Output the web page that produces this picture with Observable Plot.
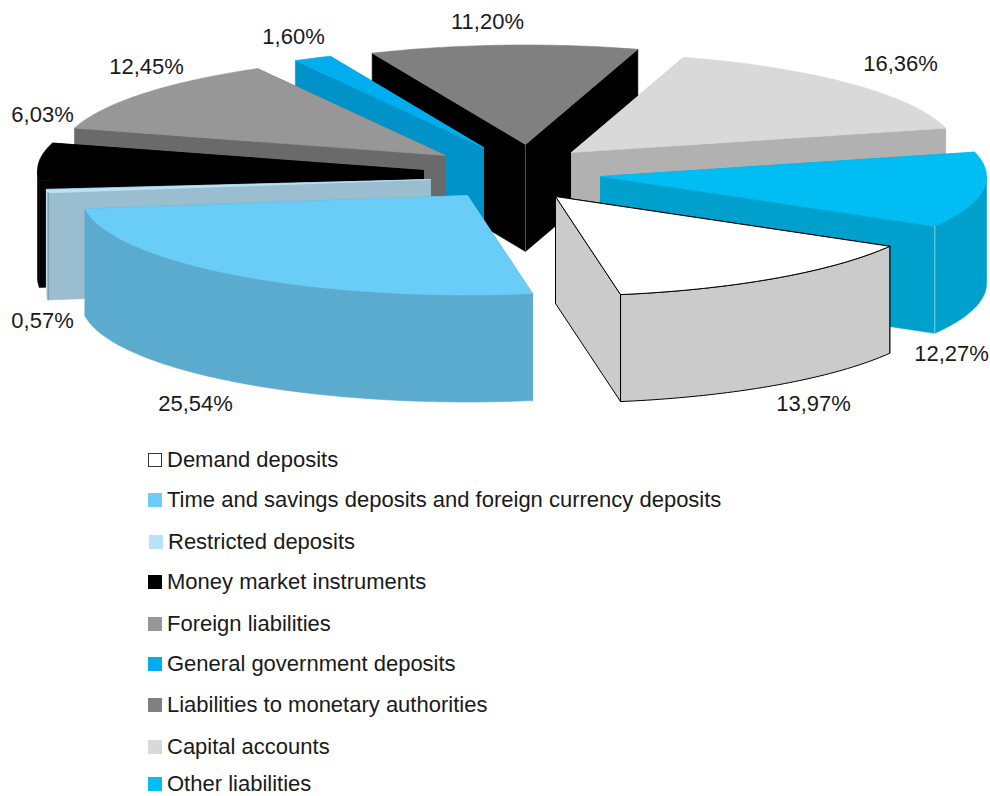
<!DOCTYPE html>
<html>
<head>
<meta charset="utf-8">
<script src="https://cdn.jsdelivr.net/npm/d3@7"></script>
<script src="https://cdn.jsdelivr.net/npm/@observablehq/plot@0.6"></script>
<style>
html,body{margin:0;padding:0;background:#fff;}
#wrap{position:relative;width:990px;height:796px;font-family:"Liberation Sans",Arial,sans-serif;color:#1a1a1a;}
#chart svg{display:block;}
.row{position:absolute;display:flex;align-items:center;font-size:22px;line-height:18px;height:18px;white-space:nowrap;}
.row .t{display:block;height:18px;line-height:18px;}
.sw{display:inline-block;width:14px;height:14px;box-sizing:border-box;margin-right:5px;}
</style>
</head>
<body>
<div id="wrap"><div id="chart"></div><div id="legend"></div></div>
<script>
// Data
const categories = ["Demand deposits","Time and savings deposits and foreign currency deposits","Restricted deposits","Money market instruments","Foreign liabilities","General government deposits","Liabilities to monetary authorities","Capital accounts","Other liabilities"];
const shares = [13.97,25.54,0.57,6.03,12.45,1.60,11.20,16.36,12.27];
const shareLabels = ["13,97%","25,54%","0,57%","6,03%","12,45%","1,60%","11,20%","16,36%","12,27%"];

// Styles
const topColors   = ["#ffffff","#69cdf7","#b7e4fa","#000000","#979797","#00aeef","#808080","#d9d9d9","#00bdf4"];
const sideColors  = ["#cbcbcb","#5aabcd","#9abdd0","#000000","#6a6a6a","#0093c9","#000000","#b1b1b1","#00a0cd"];
const rimColors   = ["#cbcbcb","#5aabcd","#d5edf8","#000000","#6a6a6a","#0093c9","#000000","#b1b1b1","#00a0cd"];
const edgeColors  = ["#000000",null,null,null,null,null,null,null,null];
const apexSeam    = [null,null,null,null,null,null,"#666666",null,null];
const startSeam   = [null,null,"#3f5f70",null,null,null,null,null,null];
const endSeam     = [null,null,null,null,null,null,null,null,"#a5dcec"];

// Layout of the exploded 3-D pie
const W = 990, H = 440;
const center = [512,170], rx = 386, ry = 99.5, depth = 107;
const rotation = 120 * Math.PI / 180;
const explodeX = [43,-45,-82,-89,-67,-29,13,59,88];
const explodeY = [26,25,9,0,-15,-23,-26,-18,6];
const labelX = [813,195,42,42,146,293,487,900,951];
const labelY = [403,403,320,114,66,36,21,63,353];
const paintOrder = [6,5,4,7,3,8,2,1,0];
const legendTop = [451,491,533,573,615,655,696,738,775];
const legendLeft = [148,148,149,148,148,148,148,148,148];

const arcs = d3.pie().sort(null).startAngle(rotation).endAngle(rotation + 2*Math.PI)(shares);
const marks = [];
function poly(points, fill, stroke, sw){
  marks.push(Plot.line([...points, points[0]], {x:"x", y:"y", fill, stroke: stroke ?? fill, strokeWidth: sw ?? 0.6, curve:"linear", strokeLinejoin:"round"}));
}
function seam(p, color, depthPx){
  marks.push(Plot.line([p,{x:p.x,y:p.y+depthPx}], {x:"x", y:"y", stroke:color, strokeWidth:0.8}));
}
for (const i of paintOrder){
  const a = arcs[i];
  const ax = center[0]+explodeX[i], ay = center[1]+explodeY[i];
  const rim = t => ({x: ax + rx*Math.sin(t), y: ay - ry*Math.cos(t)});
  const down = p => ({x:p.x, y:p.y+depth});
  const apex = {x:ax,y:ay};
  const steps = Math.max(2, Math.ceil((a.endAngle-a.startAngle)/(Math.PI/180)));
  const rimPts = d3.range(steps+1).map(k => rim(a.startAngle + (a.endAngle-a.startAngle)*k/steps));
  const mid = rim((a.startAngle+a.endAngle)/2);
  const edge = edgeColors[i];
  // radial walls: hidden first, visible last
  const wall = t => { const p = rim(t); return [apex,p,down(p),down(apex)]; };
  const faces = t => { const p = rim(t); const yOnLine = ay + (p.y-ay)*(mid.x-ax)/(p.x-ax); return mid.y < yOnLine; };
  const walls = [a.startAngle,a.endAngle].sort((p,q)=>faces(p)-faces(q));
  for (const t of walls) poly(wall(t), sideColors[i], edge, edge?1:undefined);
  // outer wall: only the part of the rim turned to the viewer
  for (const [lo,hi] of [[Math.PI/2,3*Math.PI/2],[Math.PI/2+2*Math.PI,3*Math.PI/2+2*Math.PI]]){
    const s = Math.max(lo,a.startAngle), e = Math.min(hi,a.endAngle);
    if (e > s){
      const n = Math.max(2, Math.ceil((e-s)/(Math.PI/180)));
      const pts = d3.range(n+1).map(k => rim(s+(e-s)*k/n));
      poly([...pts, ...pts.map(down).reverse()], rimColors[i], edge, edge?1:undefined);
    }
  }
  poly([apex,...rimPts], topColors[i], edge, edge?1:undefined);
  if (apexSeam[i]) seam(apex, apexSeam[i], depth);
  if (startSeam[i]) seam(rim(a.startAngle), startSeam[i], depth);
  if (endSeam[i]) seam(rim(a.endAngle), endSeam[i], depth);
}
marks.push(Plot.text(shareLabels.map((t,i)=>({t,x:labelX[i],y:labelY[i]})), {x:"x", y:"y", text:"t", fontSize:22, fill:"#1a1a1a", fontFamily:"Liberation Sans"}));

const chart = Plot.plot({
  width:W, height:H, margin:0,
  x:{domain:[0,W], range:[0,W], axis:null},
  y:{domain:[0,H], range:[0,H], axis:null},
  marks
});
document.getElementById("chart").append(chart);

const legend = d3.select("#legend");
categories.forEach((c,i)=>{
  const r = legend.append("div").attr("class","row").style("left",legendLeft[i]+"px").style("top",legendTop[i]+"px");
  r.append("span").attr("class","sw").style("background",topColors[i]).style("border",i===0?"1px solid #333":null);
  r.append("span").attr("class","t").text(c);
});
</script>
</body>
</html>
